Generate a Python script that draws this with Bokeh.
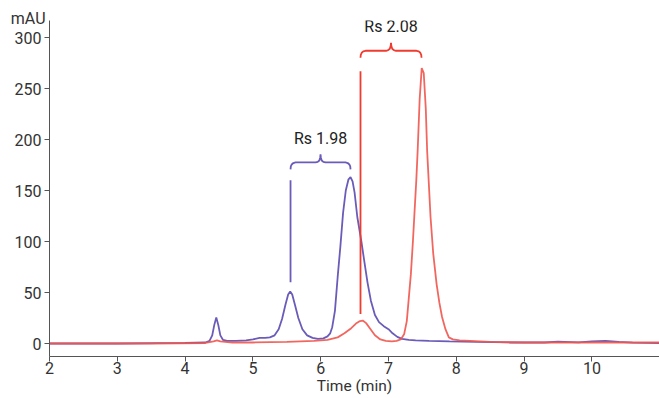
from bokeh.plotting import figure
from bokeh.models import Range1d, Label, FixedTicker
from bokeh.embed import file_html
from bokeh.resources import INLINE

# ---- data ----
purple_x = [2.0, 3.0, 3.6, 4.0, 4.3, 4.36, 4.4, 4.43, 4.46, 4.49, 4.52, 4.56, 4.62, 4.75,
            4.9, 5.0, 5.1, 5.18, 5.25, 5.32, 5.38, 5.43, 5.48, 5.52, 5.55, 5.58, 5.62,
            5.67, 5.73, 5.8, 5.88, 5.96, 6.04, 6.1, 6.14, 6.17, 6.21, 6.25, 6.29, 6.33,
            6.37, 6.41, 6.44, 6.47, 6.5, 6.54, 6.6, 6.64, 6.69, 6.74, 6.8, 6.86, 6.93,
            7.0, 7.06, 7.13, 7.2, 7.3, 7.4, 7.6, 7.9, 8.3, 8.8, 9.3, 9.5, 9.8, 10.0,
            10.2, 10.4, 10.6, 11.0]
purple_y = [0, 0, 0.3, 0.5, 1, 2.5, 8, 18, 25.5, 18, 8, 3.5, 2.5, 2.5,
            3, 4, 5.5, 5.5, 6, 8, 14, 24, 38, 48, 51, 48, 38,
            25, 14, 8, 5.5, 4.5, 5, 7, 10, 16, 32, 65, 95, 128,
            150, 161, 163, 159, 148, 124, 100, 82, 60, 42, 28, 21, 17,
            14, 10, 6.5, 4.5, 3.5, 3, 2.5, 2, 1.5, 1, 1, 1.8, 1.2, 2,
            2.5, 1.5, 0.8, 0.5]

red_x = [2.0, 3.5, 4.3, 4.42, 4.47, 4.52, 4.7, 5.0, 5.5, 5.9, 6.1, 6.25, 6.35, 6.45,
         6.52, 6.58, 6.62, 6.67, 6.73, 6.8, 6.88, 6.96, 7.05, 7.12, 7.18, 7.23, 7.27,
         7.3, 7.33, 7.36, 7.38, 7.41, 7.43, 7.46, 7.49, 7.52, 7.55, 7.57, 7.6, 7.62,
         7.66, 7.71, 7.75, 7.79, 7.84, 7.89, 7.95, 8.05, 8.2, 8.5, 9.0, 10.0, 11.0]
red_y = [0, 0, 0.5, 2, 3, 2, 1, 1, 1.5, 2.5, 3.5, 6, 10, 15,
         19.5, 22, 22.5, 20, 14.5, 8, 4, 2.5, 2, 2.5, 4, 9, 22,
         45, 68, 100, 124, 160, 189, 240, 270, 265, 230, 189, 150, 124,
         88, 58, 40, 26, 14, 6, 4, 3, 2.5, 1.5, 1, 1, 1]

x_ticks = [2, 3, 4, 5, 6, 7, 8, 9, 10]
y_ticks = [0, 50, 100, 150, 200, 250, 300]

# resolution annotations: label, left peak time, right peak time, bracket level, text level,
# marker line top, marker line bottom
rs_labels = ["Rs 1.98", "Rs 2.08"]
rs_left = [5.555, 6.587]
rs_right = [6.44, 7.487]
rs_level = [177.5, 287]
rs_text_y = [201, 311]
rs_line_top = [160, 267]
rs_line_bottom = [60, 29]
rs_colors = ["#6a5cb8", "#f03c30"]

PURPLE = "#6a5cb8"
RED = "#f0574e"
FONT = "Roboto"

# ---- geometry ----
W, H = 659, 398
BL, BR, BT, BB = 49, 0, 20, 42
PPY = 1.02
X0, X1 = 2.0, 2.0 + (W - BL - BR) / 67.8
Y0, Y1 = -13 / PPY, 323 / PPY
fw = W - BL - BR
fh = H - BT - BB
ppx = fw / (X1 - X0)
ppy = fh / (Y1 - Y0)

p = figure(width=W, height=H, output_backend="svg", toolbar_location=None,
           x_range=Range1d(X0, X1), y_range=Range1d(Y0, Y1),
           min_border_left=BL, min_border_right=BR, min_border_top=BT, min_border_bottom=BB)
p.outline_line_color = None
p.grid.visible = False
p.background_fill_color = "white"
p.border_fill_color = "white"

for ax in (p.xaxis[0], p.yaxis[0]):
    ax.axis_line_color = "#555555"
    ax.major_tick_line_color = "#555555"
    ax.major_tick_out = 5
    ax.major_tick_in = 0
    ax.minor_tick_out = 0
    ax.minor_tick_in = 0
    ax.major_label_text_font = FONT
    ax.major_label_text_font_size = "16px"
    ax.major_label_text_color = "#333333"
    ax.axis_label_text_font = FONT
    ax.axis_label_text_font_size = "15.5px"
    ax.axis_label_text_font_style = "normal"
    ax.axis_label_text_color = "#333333"
p.xaxis.ticker = FixedTicker(ticks=x_ticks)
p.yaxis.ticker = FixedTicker(ticks=y_ticks)
p.xaxis.major_label_standoff = 0
p.yaxis.major_label_standoff = 3
p.xaxis.axis_label = "Time (min)"
p.xaxis.axis_label_standoff = 0

p.line(purple_x, purple_y, line_color=PURPLE, line_width=1.8)
p.line(red_x, red_y, line_color=RED, line_width=1.8, line_alpha=0.9)


def brace(xa, xb, yl):
    # curly brace path built in pixel offsets, converted to data units
    hw = (xb - xa) * ppx / 2.0
    end = [(0, -7), (0.3, -4), (1.2, -2), (2.8, -0.6), (5, 0)]
    mid = [(hw - 5, 0), (hw - 2.8, 0.6), (hw - 1.2, 2), (hw - 0.3, 5), (hw, 8)]
    left = end + mid
    right = [(2 * hw - dx, dy) for dx, dy in reversed(left)]
    pts = left + right
    xs = [xa + dx / ppx for dx, dy in pts]
    ys = [yl + dy / ppy for dx, dy in pts]
    return xs, ys


for i in range(len(rs_labels)):
    bx, by = brace(rs_left[i], rs_right[i], rs_level[i])
    p.line(bx, by, line_color=rs_colors[i], line_width=1.8)
    p.segment(x0=[rs_left[i]], y0=[rs_line_top[i]], x1=[rs_left[i]], y1=[rs_line_bottom[i]],
              line_color=rs_colors[i], line_width=1.8)
    p.add_layout(Label(x=(rs_left[i] + rs_right[i]) / 2, y=rs_text_y[i], text=rs_labels[i],
                       text_align="center", text_baseline="middle", text_font=FONT,
                       text_font_size="16px", text_color="#222222"))

p.add_layout(Label(x=X0 - 4 / ppx, y=Y1 + 2 / ppy, text="mAU",
                   text_align="right", text_baseline="middle", text_font=FONT,
                   text_font_size="16px", text_color="#333333"), "above")

open("out.html", "w").write(file_html(p, INLINE))
